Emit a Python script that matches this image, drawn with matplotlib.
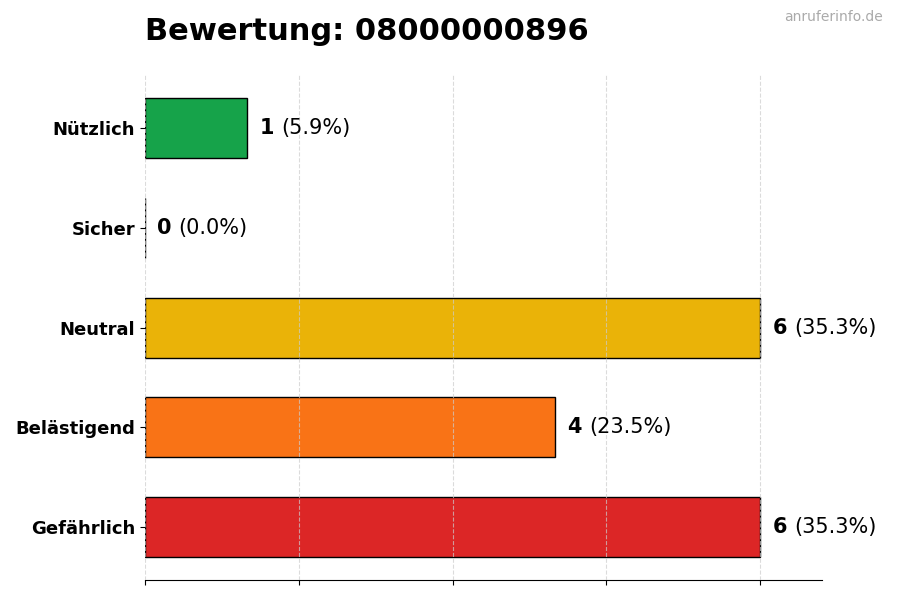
import matplotlib
matplotlib.use("Agg")
import matplotlib.pyplot as plt

categories = ["Gefährlich", "Belästigend", "Neutral", "Sicher", "Nützlich"]
counts = [6, 4, 6, 0, 1]
colors = ["#dc2626", "#f97316", "#eab308", "#22c55e", "#16a34a"]
title = "Bewertung: 08000000896"
watermark = "anruferinfo.de"

total = sum(counts)

fig = plt.figure(figsize=(9, 6), dpi=100)
ax = fig.add_axes([0.161, 0.033, 0.752, 0.842])

ax.barh(categories, counts, height=0.6, color=colors, edgecolor="black", linewidth=1)
ax.set_xlim(0, max(counts) * 1.1)
ax.set_xticks([0, 1.5, 3, 4.5, 6])
ax.set_xticklabels([])
ax.grid(axis="x", linestyle="--", color="#cccccc", alpha=0.7, zorder=3)
ax.set_axisbelow(False)
for s in ["top", "right", "left"]:
    ax.spines[s].set_visible(False)
ax.tick_params(axis="y", labelsize=13)
for lbl in ax.get_yticklabels():
    lbl.set_fontweight("bold")

for i, v in enumerate(counts):
    t = ax.text(v + 0.12, i, str(v), va="center", ha="left", fontsize=15, fontweight="bold")
    ax.annotate(f"({v / total * 100:.1f}%)", xy=(1, 0.5), xycoords=t, xytext=(5, 0),
                textcoords="offset points", va="center", ha="left", fontsize=15)

fig.text(0.161, 0.948, title, fontsize=22, fontweight="bold", ha="left", va="center")
fig.text(0.981, 0.971, watermark, fontsize=10, color="#aaaaaa", ha="right", va="center")

fig.savefig("out.png", dpi=100)
